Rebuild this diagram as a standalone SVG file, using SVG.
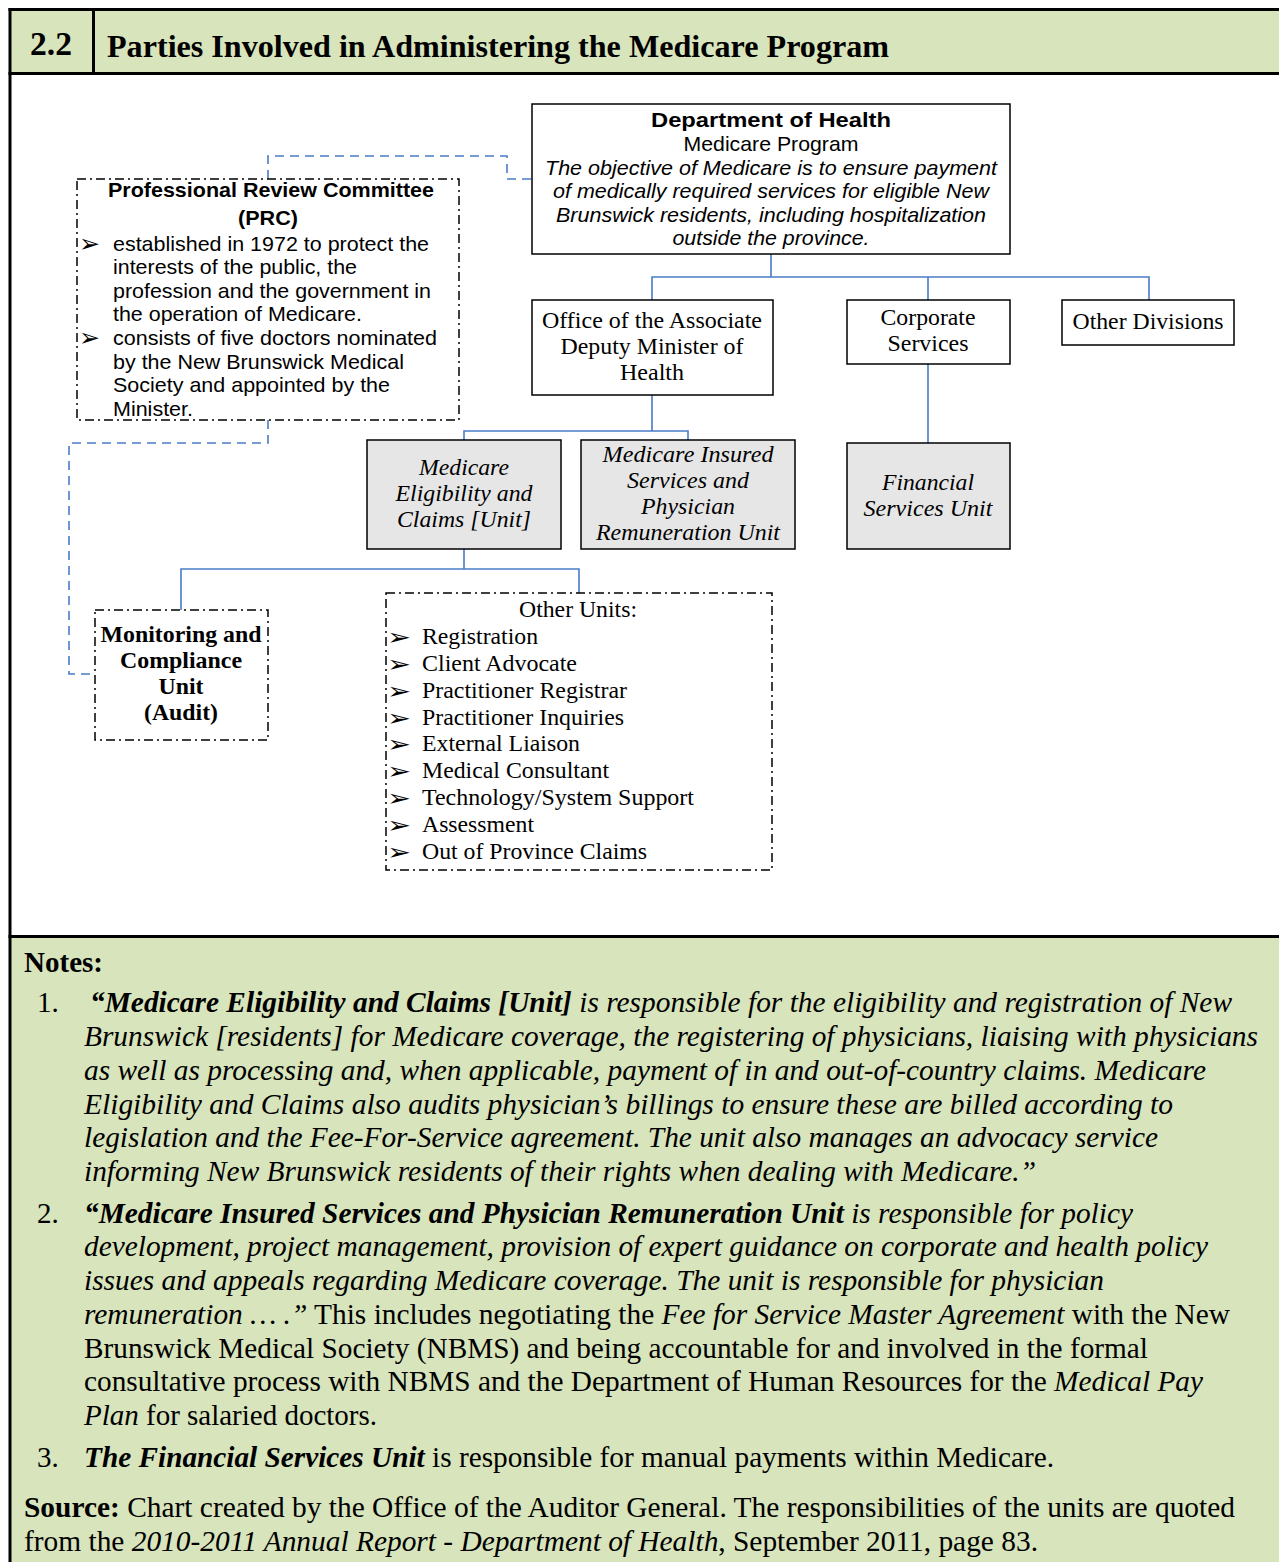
<svg xmlns="http://www.w3.org/2000/svg" width="1279" height="1562" viewBox="0 0 1279 1562">
<style>
.frame{stroke:#000;stroke-width:3;fill:none}
.box{fill:#fff;stroke:#000;stroke-width:1.5}
.gray{fill:#E6E6E6;stroke:#000;stroke-width:1.5}
.dd{fill:#fff;stroke:#000;stroke-width:1.5;stroke-dasharray:9 4 2 4}
.conn{fill:none;stroke:#4A7BC8;stroke-width:1.6}
.dash{fill:none;stroke:#4A7BC8;stroke-width:1.6;stroke-dasharray:9 6}
.sans{font-family:"Liberation Sans",Arial,sans-serif;font-size:21px;fill:#000}
.serif{font-family:"Liberation Serif","Times New Roman",serif;font-size:23.5px;fill:#000}
.note{font-family:"Liberation Serif","Times New Roman",serif;font-size:29px;fill:#000}
.bul{font-family:"DejaVu Sans",sans-serif;font-size:23px;fill:#000}
.bul2{font-family:"DejaVu Sans",sans-serif;font-size:25px;fill:#000}
.b{font-weight:bold}
.i{font-style:italic}
</style>
<rect x="0" y="0" width="1279" height="1562" fill="#fff"/>
<g id="frame">
<rect x="10" y="10" width="1269" height="63" fill="#D8E4BC"/>
<rect x="10" y="936" width="1269" height="626" fill="#D8E4BC"/>
<line class="frame" x1="8.5" y1="9.5" x2="1279" y2="9.5"/>
<line class="frame" x1="8.5" y1="73.5" x2="1279" y2="73.5"/>
<line class="frame" x1="8.5" y1="936.5" x2="1279" y2="936.5"/>
<line class="frame" x1="10" y1="8" x2="10" y2="1562"/>
<line class="frame" x1="93.5" y1="9.5" x2="93.5" y2="73.5"/>
<text x="30" y="55" font-family="Liberation Serif,serif" font-weight="bold" font-size="34" textLength="42" lengthAdjust="spacingAndGlyphs">2.2</text>
<text x="107" y="57" font-family="Liberation Serif,serif" font-weight="bold" font-size="32" textLength="782" lengthAdjust="spacingAndGlyphs">Parties Involved in Administering the Medicare Program</text>
</g>
<g id="connectors">
<path class="conn" d="M771 254V277M652 300V277H1149V300M928 277V300"/>
<path class="conn" d="M652 395V431M464 440V431H688V440"/>
<path class="conn" d="M928 364V443"/>
<path class="conn" d="M464 549V569M181 610V569H579V593"/>
<path class="dash" d="M268 179V156H507V179H532"/>
<path class="dash" d="M268 420V443H69V674H95"/>
</g>
<g id="dept">
<rect class="box" x="532" y="104" width="478" height="150"/>
<text class="sans b" x="771" y="127" text-anchor="middle" textLength="240" lengthAdjust="spacingAndGlyphs">Department of Health</text>
<text class="sans" x="771" y="151" text-anchor="middle" textLength="175" lengthAdjust="spacingAndGlyphs">Medicare Program</text>
<text class="sans i" x="771" y="175" text-anchor="middle" textLength="452" lengthAdjust="spacingAndGlyphs">The objective of Medicare is to ensure payment</text>
<text class="sans i" x="771" y="198" text-anchor="middle" textLength="436" lengthAdjust="spacingAndGlyphs">of medically required services for eligible New</text>
<text class="sans i" x="771" y="222" text-anchor="middle" textLength="430" lengthAdjust="spacingAndGlyphs">Brunswick residents, including hospitalization</text>
<text class="sans i" x="771" y="245" text-anchor="middle" textLength="197" lengthAdjust="spacingAndGlyphs">outside the province.</text>
</g>
<g id="prc">
<rect class="dd" x="77" y="179" width="382" height="241"/>
<text class="sans b" x="271" y="197" text-anchor="middle" textLength="326" lengthAdjust="spacingAndGlyphs">Professional Review Committee</text>
<text class="sans b" x="268" y="225" text-anchor="middle" textLength="60" lengthAdjust="spacingAndGlyphs">(PRC)</text>
<text class="bul2"><tspan x="79" y="252">➢</tspan><tspan x="79" y="346">➢</tspan></text>
<text class="sans" x="113" y="251" textLength="316" lengthAdjust="spacingAndGlyphs">established in 1972 to protect the</text>
<text class="sans" x="113" y="274" textLength="244" lengthAdjust="spacingAndGlyphs">interests of the public, the</text>
<text class="sans" x="113" y="298" textLength="318" lengthAdjust="spacingAndGlyphs">profession and the government in</text>
<text class="sans" x="113" y="321" textLength="249" lengthAdjust="spacingAndGlyphs">the operation of Medicare.</text>
<text class="sans" x="113" y="345" textLength="324" lengthAdjust="spacingAndGlyphs">consists of five doctors nominated</text>
<text class="sans" x="113" y="369" textLength="291" lengthAdjust="spacingAndGlyphs">by the New Brunswick Medical</text>
<text class="sans" x="113" y="392" textLength="277" lengthAdjust="spacingAndGlyphs">Society and appointed by the</text>
<text class="sans" x="113" y="416" textLength="80" lengthAdjust="spacingAndGlyphs">Minister.</text>
</g>
<g id="office">
<rect class="box" x="532" y="300" width="241" height="95"/>
<text class="serif" x="652" y="328" text-anchor="middle" textLength="220" lengthAdjust="spacingAndGlyphs">Office of the Associate</text>
<text class="serif" x="652" y="354" text-anchor="middle" textLength="183" lengthAdjust="spacingAndGlyphs">Deputy Minister of</text>
<text class="serif" x="652" y="380" text-anchor="middle" textLength="64" lengthAdjust="spacingAndGlyphs">Health</text>
</g>
<g id="corporate">
<rect class="box" x="847" y="300" width="163" height="64"/>
<text class="serif" x="928" y="325" text-anchor="middle" textLength="95" lengthAdjust="spacingAndGlyphs">Corporate</text>
<text class="serif" x="928" y="351" text-anchor="middle" textLength="81" lengthAdjust="spacingAndGlyphs">Services</text>
</g>
<g id="other-divisions">
<rect class="box" x="1062" y="300" width="172" height="45"/>
<text class="serif" x="1148" y="329" text-anchor="middle" textLength="151" lengthAdjust="spacingAndGlyphs">Other Divisions</text>
</g>
<g id="eligibility">
<rect class="gray" x="367" y="440" width="194" height="109"/>
<text class="serif i" x="464" y="475" text-anchor="middle" textLength="90" lengthAdjust="spacingAndGlyphs">Medicare</text>
<text class="serif i" x="464" y="501" text-anchor="middle" textLength="137" lengthAdjust="spacingAndGlyphs">Eligibility and</text>
<text class="serif i" x="464" y="527" text-anchor="middle" textLength="134" lengthAdjust="spacingAndGlyphs">Claims [Unit]</text>
</g>
<g id="insured">
<rect class="gray" x="581" y="440" width="214" height="109"/>
<text class="serif i" x="688" y="462" text-anchor="middle" textLength="171" lengthAdjust="spacingAndGlyphs">Medicare Insured</text>
<text class="serif i" x="688" y="488" text-anchor="middle" textLength="122" lengthAdjust="spacingAndGlyphs">Services and</text>
<text class="serif i" x="688" y="514" text-anchor="middle" textLength="94" lengthAdjust="spacingAndGlyphs">Physician</text>
<text class="serif i" x="688" y="540" text-anchor="middle" textLength="184" lengthAdjust="spacingAndGlyphs">Remuneration Unit</text>
</g>
<g id="financial">
<rect class="gray" x="847" y="443" width="163" height="106"/>
<text class="serif i" x="928" y="490" text-anchor="middle" textLength="92" lengthAdjust="spacingAndGlyphs">Financial</text>
<text class="serif i" x="928" y="516" text-anchor="middle" textLength="129" lengthAdjust="spacingAndGlyphs">Services Unit</text>
</g>
<g id="monitoring">
<rect class="dd" x="95" y="610" width="173" height="130"/>
<text class="serif b" x="181" y="642" text-anchor="middle" textLength="161" lengthAdjust="spacingAndGlyphs">Monitoring and</text>
<text class="serif b" x="181" y="668" text-anchor="middle" textLength="122" lengthAdjust="spacingAndGlyphs">Compliance</text>
<text class="serif b" x="181" y="694" text-anchor="middle" textLength="45" lengthAdjust="spacingAndGlyphs">Unit</text>
<text class="serif b" x="181" y="720" text-anchor="middle" textLength="74" lengthAdjust="spacingAndGlyphs">(Audit)</text>
</g>
<g id="other-units">
<rect class="dd" x="386" y="593" width="386" height="277"/>
<text class="serif" x="578" y="617" text-anchor="middle" textLength="118" lengthAdjust="spacingAndGlyphs">Other Units:</text>
<g class="bul">
<text x="387" y="645" textLength="24" lengthAdjust="spacingAndGlyphs">➢</text>
<text x="387" y="672" textLength="24" lengthAdjust="spacingAndGlyphs">➢</text>
<text x="387" y="699" textLength="24" lengthAdjust="spacingAndGlyphs">➢</text>
<text x="387" y="726" textLength="24" lengthAdjust="spacingAndGlyphs">➢</text>
<text x="387" y="752" textLength="24" lengthAdjust="spacingAndGlyphs">➢</text>
<text x="387" y="779" textLength="24" lengthAdjust="spacingAndGlyphs">➢</text>
<text x="387" y="806" textLength="24" lengthAdjust="spacingAndGlyphs">➢</text>
<text x="387" y="833" textLength="24" lengthAdjust="spacingAndGlyphs">➢</text>
<text x="387" y="860" textLength="24" lengthAdjust="spacingAndGlyphs">➢</text>
</g>
<text class="serif" x="422" y="644" textLength="116" lengthAdjust="spacingAndGlyphs">Registration</text>
<text class="serif" x="422" y="671" textLength="155" lengthAdjust="spacingAndGlyphs">Client Advocate</text>
<text class="serif" x="422" y="698" textLength="205" lengthAdjust="spacingAndGlyphs">Practitioner Registrar</text>
<text class="serif" x="422" y="725" textLength="202" lengthAdjust="spacingAndGlyphs">Practitioner Inquiries</text>
<text class="serif" x="422" y="751" textLength="158" lengthAdjust="spacingAndGlyphs">External Liaison</text>
<text class="serif" x="422" y="778" textLength="187" lengthAdjust="spacingAndGlyphs">Medical Consultant</text>
<text class="serif" x="422" y="805" textLength="272" lengthAdjust="spacingAndGlyphs">Technology/System Support</text>
<text class="serif" x="422" y="832" textLength="112" lengthAdjust="spacingAndGlyphs">Assessment</text>
<text class="serif" x="422" y="859" textLength="225" lengthAdjust="spacingAndGlyphs">Out of Province Claims</text>
</g>
<g id="notes">
<text class="note b" x="24" y="972" textLength="79" lengthAdjust="spacingAndGlyphs">Notes:</text>
<text class="note" x="37" y="1012">1.</text>
<text class="note i" x="90" y="1012" textLength="1142" lengthAdjust="spacingAndGlyphs"><tspan class="b">“Medicare Eligibility and Claims [Unit]</tspan> is responsible for the eligibility and registration of New</text>
<text class="note i" x="84" y="1046" textLength="1174" lengthAdjust="spacingAndGlyphs">Brunswick [residents] for Medicare coverage, the registering of physicians, liaising with physicians</text>
<text class="note i" x="84" y="1080" textLength="1122" lengthAdjust="spacingAndGlyphs">as well as processing and, when applicable, payment of in and out-of-country claims. Medicare</text>
<text class="note i" x="84" y="1114" textLength="1089" lengthAdjust="spacingAndGlyphs">Eligibility and Claims also audits physician’s billings to ensure these are billed according to</text>
<text class="note i" x="84" y="1147" textLength="1074" lengthAdjust="spacingAndGlyphs">legislation and the Fee-For-Service agreement. The unit also manages an advocacy service</text>
<text class="note i" x="84" y="1181" textLength="952" lengthAdjust="spacingAndGlyphs">informing New Brunswick residents of their rights when dealing with Medicare.”</text>
<text class="note" x="37" y="1223">2.</text>
<text class="note i" x="84" y="1223" textLength="1049" lengthAdjust="spacingAndGlyphs"><tspan class="b">“Medicare Insured Services and Physician Remuneration Unit</tspan> is responsible for policy</text>
<text class="note i" x="84" y="1256" textLength="1124" lengthAdjust="spacingAndGlyphs">development, project management, provision of expert guidance on corporate and health policy</text>
<text class="note i" x="84" y="1290" textLength="1020" lengthAdjust="spacingAndGlyphs">issues and appeals regarding Medicare coverage. The unit is responsible for physician</text>
<text class="note" x="84" y="1324" textLength="1146" lengthAdjust="spacingAndGlyphs"><tspan class="i">remuneration … .”</tspan> This includes negotiating the <tspan class="i">Fee for Service Master Agreement</tspan> with the New</text>
<text class="note" x="84" y="1358" textLength="1064" lengthAdjust="spacingAndGlyphs">Brunswick Medical Society (NBMS) and being accountable for and involved in the formal</text>
<text class="note" x="84" y="1391" textLength="1119" lengthAdjust="spacingAndGlyphs">consultative process with NBMS and the Department of Human Resources for the <tspan class="i">Medical Pay</tspan></text>
<text class="note" x="84" y="1425" textLength="293" lengthAdjust="spacingAndGlyphs"><tspan class="i">Plan</tspan> for salaried doctors.</text>
<text class="note" x="37" y="1467">3.</text>
<text class="note" x="84" y="1467" textLength="970" lengthAdjust="spacingAndGlyphs"><tspan class="b i">The Financial Services Unit</tspan> is responsible for manual payments within Medicare.</text>
<text class="note" x="24" y="1517" textLength="1211" lengthAdjust="spacingAndGlyphs"><tspan class="b">Source:</tspan> Chart created by the Office of the Auditor General. The responsibilities of the units are quoted</text>
<text class="note" x="24" y="1551" textLength="1014" lengthAdjust="spacingAndGlyphs">from the <tspan class="i">2010-2011 Annual Report - Department of Health</tspan>, September 2011, page 83.</text>
</g>
</svg>
